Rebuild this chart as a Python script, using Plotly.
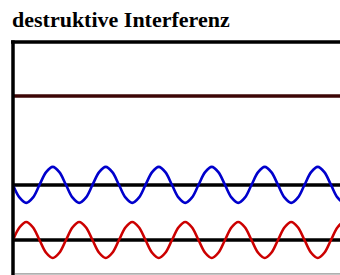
import plotly.graph_objects as go

# x positions in eighth-periods of the wave
steps = list(range(0, 53))
period_pattern = [0, 0.71, 1, 0.71, 0, -0.71, -1, -0.71]
wave1 = [period_pattern[s % 8] for s in steps]            # red wave
wave2 = [-period_pattern[s % 8] for s in steps]           # blue wave (opposite phase)
wave_sum = [a + b for a, b in zip(wave1, wave2)]          # destructive sum

offset_red = 0.0
offset_blue = 3.06
offset_sum = 8.0

title_text = "destruktive Interferenz"

fig = go.Figure()

# black baselines
for off in (offset_red, offset_blue):
    fig.add_trace(go.Scatter(x=[steps[0], steps[-1]], y=[off, off], mode="lines",
                             line=dict(color="black", width=3.5), hoverinfo="skip"))

fig.add_trace(go.Scatter(x=steps, y=[offset_sum + v for v in wave_sum], mode="lines",
                         line=dict(color="#3c0606", width=3.5), hoverinfo="skip"))
fig.add_trace(go.Scatter(x=steps, y=[offset_blue + v for v in wave2], mode="lines",
                         line=dict(color="#0000cc", width=2.6, shape="spline", smoothing=1.0),
                         hoverinfo="skip"))
fig.add_trace(go.Scatter(x=steps, y=[offset_red + v for v in wave1], mode="lines",
                         line=dict(color="#cc0000", width=2.6, shape="spline", smoothing=1.0),
                         hoverinfo="skip"))

fig.update_layout(
    width=340, height=275,
    margin=dict(l=13, r=0, t=42, b=2),
    paper_bgcolor="white", plot_bgcolor="white",
    showlegend=False,
    hovermode=False,
    xaxis=dict(visible=False, range=[0, 49.36]),
    yaxis=dict(visible=False, range=[-1.833, 11.0]),
    shapes=[
        dict(type="line", xref="paper", yref="paper", x0=0, x1=0, y0=-0.01, y1=1.007,
             line=dict(color="black", width=3.5)),
        dict(type="line", xref="paper", yref="paper", x0=-0.006, x1=1.05, y0=1, y1=1,
             line=dict(color="black", width=3.5)),
        dict(type="line", xref="paper", yref="paper", x0=0.006, x1=1.05, y0=-0.004, y1=-0.004,
             line=dict(color="#777777", width=1)),
    ],
    annotations=[dict(text="<b>%s</b>" % title_text, xref="paper", yref="paper",
                      x=0, y=1.0, xanchor="left", yanchor="bottom", yshift=8, xshift=-3,
                      showarrow=False,
                      font=dict(family="Liberation Serif", size=22, color="black"))],
)

fig.write_html("out.html",
               config={"displayModeBar": False, "staticPlot": True},
               post_script="document.body.style.margin='0';document.body.style.overflow='hidden';")
